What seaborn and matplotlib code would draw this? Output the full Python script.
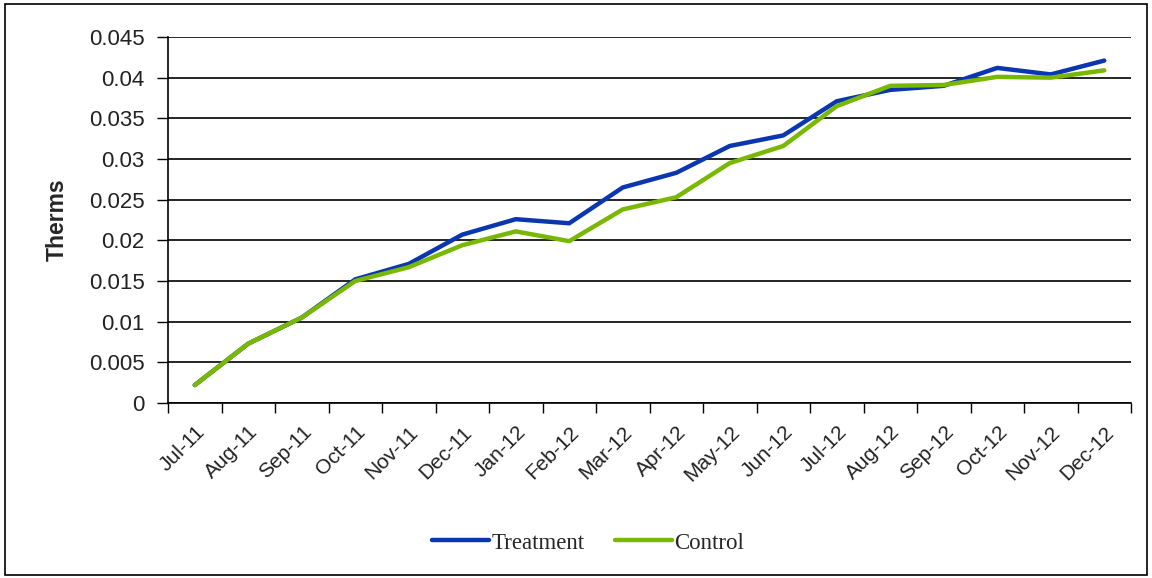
import matplotlib
matplotlib.use("Agg")
import matplotlib.pyplot as plt
import matplotlib.patches as mpatches
import seaborn as sns
import pandas as pd

# data
months = ["Jul-11", "Aug-11", "Sep-11", "Oct-11", "Nov-11", "Dec-11",
          "Jan-12", "Feb-12", "Mar-12", "Apr-12", "May-12", "Jun-12",
          "Jul-12", "Aug-12", "Sep-12", "Oct-12", "Nov-12", "Dec-12"]
treatment = [0.0022, 0.0073, 0.0105, 0.0152, 0.0171, 0.0207,
             0.0226, 0.0221, 0.0265, 0.0283, 0.0316, 0.0329,
             0.0371, 0.0385, 0.0390, 0.0412, 0.0404, 0.0421]
control = [0.0022, 0.0073, 0.0105, 0.0150, 0.0167, 0.0194,
           0.0211, 0.0199, 0.0238, 0.0253, 0.0295, 0.0316,
           0.0365, 0.0390, 0.0391, 0.0401, 0.0400, 0.0409]

df = pd.DataFrame({
    "Month": months * 2,
    "Therms": treatment + control,
    "Series": ["Treatment"] * len(months) + ["Control"] * len(months),
})

sns.set_theme(style="white")
plt.rcParams["font.family"] = ["Liberation Sans", "DejaVu Sans"]

fig = plt.figure(figsize=(11.52, 5.78), dpi=100)
ax = fig.add_axes([168 / 1152, 1 - 403 / 578, (1131 - 168) / 1152, (403 - 37) / 578])

sns.lineplot(data=df, x="Month", y="Therms", hue="Series",
             palette={"Treatment": "#0a36b0", "Control": "#78b800"},
             linewidth=3.2, sort=False, ax=ax, legend=False)

ax.set_xlim(-0.5, len(months) - 0.5)
ax.set_ylim(0, 0.045)
ax.set_yticks([i * 0.005 for i in range(10)])
ax.set_yticklabels(["0", "0.005", "0.01", "0.015", "0.02", "0.025",
                    "0.03", "0.035", "0.04", "0.045"], fontsize=16, color="#222222")
ax.yaxis.grid(True, color="black", linewidth=1.2)
ax.set_axisbelow(True)

ax.set_xticks(range(len(months)))
ax.set_xticklabels(months, rotation=45, ha="right", rotation_mode="anchor",
                   fontsize=15, color="#222222")
ax.set_xticks([i - 0.5 for i in range(len(months) + 1)], minor=True)
ax.tick_params(axis="x", which="major", length=0, pad=14)
ax.tick_params(axis="x", which="minor", length=7, width=1, color="black", direction="out", bottom=True)
ax.tick_params(axis="y", length=8, width=1, color="black", direction="out", left=True, pad=9)

for s in ["top", "right"]:
    ax.spines[s].set_visible(False)
for s in ["left", "bottom"]:
    ax.spines[s].set_color("black")
    ax.spines[s].set_linewidth(1.2)

ax.set_xlabel("")
ax.set_ylabel("Therms", fontsize=16.5, fontweight="bold", labelpad=14)

handles = [plt.Line2D([], [], color="#0a36b0", linewidth=3.2),
           plt.Line2D([], [], color="#78b800", linewidth=3.2)]
fig.legend(handles, ["Treatment", "Control"], loc="center",
           bbox_to_anchor=(588 / 1152, 1 - 543 / 578), ncol=2, frameon=False,
           prop={"family": "Liberation Serif", "size": 16.5},
           handlelength=2.5, handletextpad=0.1, columnspacing=1.3)

fig.patches.append(mpatches.Rectangle((5 / 1152, 3 / 578), 1142 / 1152, 571 / 578,
                                      transform=fig.transFigure, fill=False,
                                      edgecolor="black", linewidth=1.2))

fig.savefig("out.png", dpi=100)
